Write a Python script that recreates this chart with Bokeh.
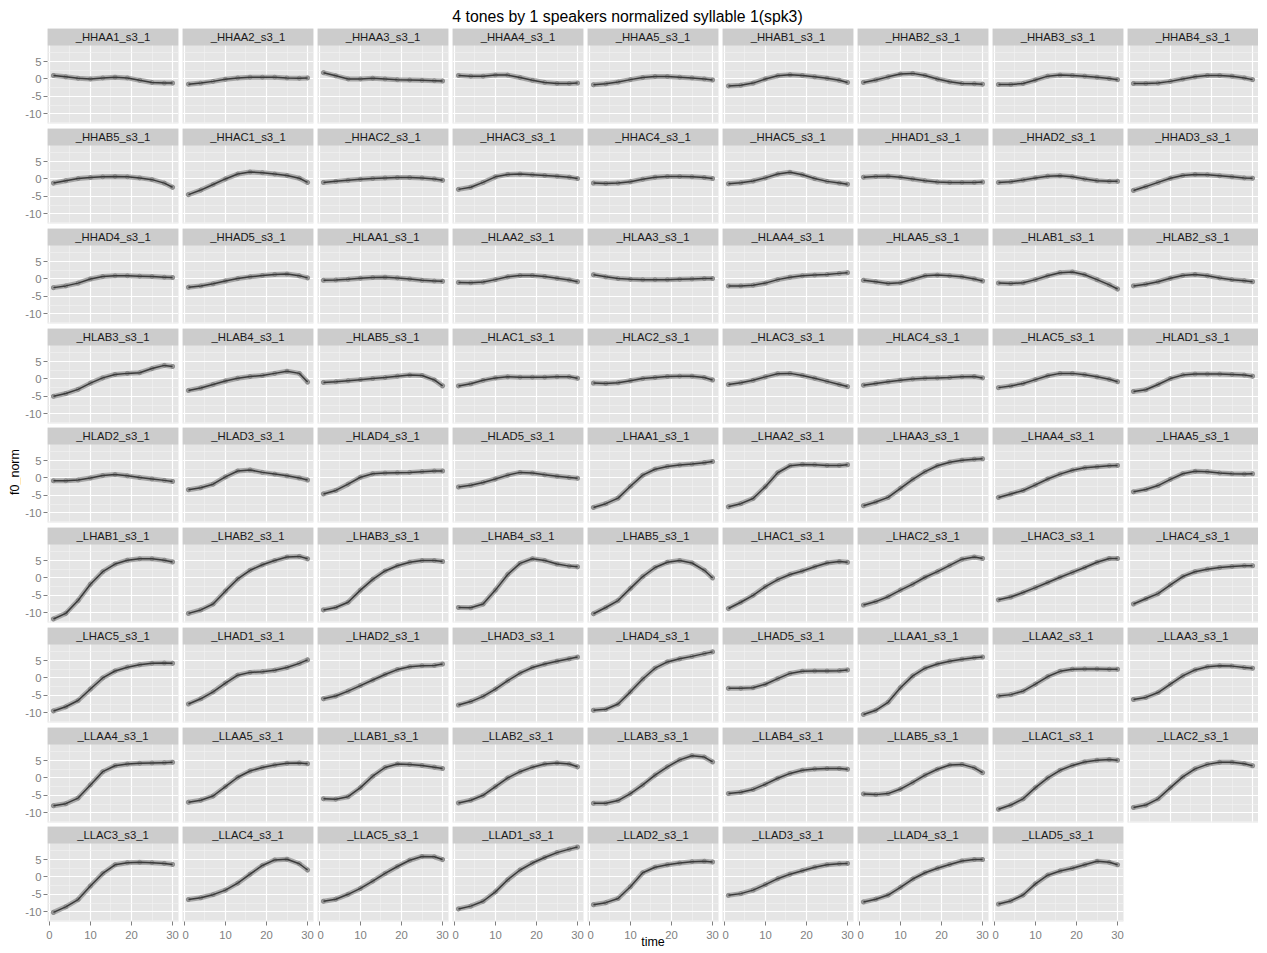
import math
from bokeh.plotting import figure
from bokeh.layouts import gridplot, column, row
from bokeh.models import Range1d, FixedTicker, BoxAnnotation, Label, ColumnDataSource
from bokeh.core.properties import value
from bokeh.embed import file_html
from bokeh.resources import INLINE

# ---------------- data ----------------
TITLE = "4 tones by 1 speakers normalized syllable 1(spk3)"
X_LABEL = "time"
Y_LABEL = "f0_norm"
SUFFIX = "_s3_1"
TIME = [1, 4, 7, 10, 13, 16, 19, 22, 25, 28, 30]
X_TICKS = [0, 10, 20, 30]
X_MINOR = [5, 15, 25]
Y_TICKS = [-10, -5, 0, 5]
Y_MINOR = [-12.5, -7.5, -2.5, 2.5, 7.5]

HHAA = [
    [1.0, 0.6, 0.2, 0.0, 0.3, 0.5, 0.3, -0.4, -1.0, -1.2, -1.2],
    [-1.5, -1.2, -0.7, -0.1, 0.3, 0.5, 0.5, 0.5, 0.3, 0.2, 0.3],
    [1.8, 0.9, 0.0, 0.0, 0.2, 0.0, -0.2, -0.3, -0.4, -0.5, -0.6],
    [1.0, 0.8, 0.8, 1.1, 1.1, 0.4, -0.4, -1.0, -1.3, -1.3, -1.2],
    [-1.7, -1.4, -0.9, -0.2, 0.4, 0.7, 0.7, 0.5, 0.3, 0.0, -0.3],
]
HHAB = [
    [-2.0, -1.8, -1.2, 0.0, 0.9, 1.2, 1.0, 0.6, 0.2, -0.4, -1.0],
    [-1.0, -0.3, 0.6, 1.4, 1.6, 1.0, 0.0, -0.8, -1.3, -1.4, -1.5],
    [-1.6, -1.6, -1.3, -0.3, 0.8, 1.1, 1.0, 0.8, 0.5, 0.1, -0.2],
    [-1.3, -1.3, -1.2, -0.7, 0.0, 0.6, 1.0, 1.0, 0.8, 0.3, -0.2],
    [-1.2, -0.5, 0.1, 0.4, 0.6, 0.7, 0.6, 0.3, -0.2, -1.2, -2.4],
]
HHAC = [
    [-4.5, -3.2, -1.6, 0.0, 1.4, 2.0, 1.8, 1.4, 1.0, 0.2, -1.0],
    [-1.0, -0.7, -0.4, -0.1, 0.1, 0.3, 0.4, 0.4, 0.3, 0.0, -0.4],
    [-3.0, -2.4, -1.0, 0.6, 1.3, 1.4, 1.2, 1.0, 0.8, 0.5, 0.1],
    [-1.2, -1.3, -1.2, -0.8, -0.1, 0.5, 0.7, 0.7, 0.6, 0.4, 0.1],
    [-1.4, -1.1, -0.6, 0.3, 1.4, 1.9, 1.2, 0.1, -0.7, -1.2, -1.5],
]
HHAD = [
    [0.5, 0.7, 0.8, 0.5, 0.0, -0.5, -0.9, -1.0, -1.0, -1.0, -0.9],
    [-1.0, -0.8, -0.3, 0.3, 0.8, 0.9, 0.6, 0.0, -0.5, -0.7, -0.7],
    [-3.3, -2.2, -1.0, 0.2, 1.0, 1.3, 1.2, 0.9, 0.6, 0.3, 0.2],
    [-2.5, -2.0, -1.2, 0.0, 0.7, 0.9, 0.9, 0.8, 0.7, 0.5, 0.4],
    [-2.4, -2.0, -1.4, -0.6, 0.1, 0.6, 1.0, 1.3, 1.4, 0.9, 0.3],
]
HLAA = [
    [-0.4, -0.3, -0.1, 0.2, 0.4, 0.5, 0.3, 0.0, -0.4, -0.6, -0.7],
    [-1.0, -1.1, -0.9, -0.2, 0.6, 1.0, 1.0, 0.7, 0.2, -0.3, -0.8],
    [1.2, 0.6, 0.1, -0.1, -0.2, -0.2, -0.2, -0.1, 0.0, 0.1, 0.1],
    [-2.0, -2.0, -1.8, -1.2, -0.2, 0.5, 0.9, 1.1, 1.3, 1.6, 1.8],
    [-0.4, -0.8, -1.3, -1.1, -0.1, 0.9, 1.1, 0.9, 0.6, 0.0, -0.6],
]
HLAB = [
    [-1.2, -1.3, -1.1, -0.2, 0.9, 1.8, 2.0, 1.2, -0.2, -1.7, -2.9],
    [-2.0, -1.5, -0.8, 0.2, 1.0, 1.3, 0.9, 0.3, -0.2, -0.5, -0.8],
    [-5.0, -4.2, -3.0, -1.2, 0.3, 1.3, 1.6, 1.8, 3.0, 3.9, 3.6],
    [-3.3, -2.6, -1.6, -0.6, 0.2, 0.7, 1.0, 1.6, 2.2, 1.6, -0.9],
    [-1.0, -0.8, -0.5, -0.2, 0.1, 0.4, 0.8, 1.1, 1.0, -0.3, -2.0],
]
HLAC = [
    [-2.0, -1.4, -0.4, 0.3, 0.6, 0.5, 0.5, 0.5, 0.6, 0.6, 0.2],
    [-1.2, -1.3, -1.1, -0.5, 0.1, 0.4, 0.7, 0.8, 0.8, 0.4, -0.3],
    [-1.6, -1.1, -0.4, 0.6, 1.5, 1.6, 1.0, 0.2, -0.7, -1.6, -2.2],
    [-1.8, -1.3, -0.8, -0.4, 0.0, 0.2, 0.3, 0.4, 0.6, 0.7, 0.3],
    [-2.5, -2.0, -1.3, -0.2, 0.9, 1.6, 1.6, 1.2, 0.6, -0.1, -0.8],
]
HLAD = [
    [-3.6, -3.1, -1.6, 0.1, 1.1, 1.4, 1.4, 1.4, 1.3, 1.1, 0.8],
    [-0.8, -0.8, -0.6, 0.0, 0.7, 1.0, 0.6, 0.1, -0.3, -0.7, -1.0],
    [-3.4, -2.8, -1.8, 0.3, 2.0, 2.3, 1.6, 1.1, 0.6, 0.0, -0.6],
    [-4.6, -3.6, -1.8, 0.2, 1.2, 1.4, 1.5, 1.6, 1.8, 2.0, 2.0],
    [-2.6, -2.1, -1.3, -0.3, 0.8, 1.6, 1.4, 0.9, 0.5, 0.1, -0.1],
]
LHAA = [
    [-8.5, -7.4, -5.8, -2.4, 0.8, 2.5, 3.3, 3.7, 4.0, 4.4, 4.7],
    [-8.3, -7.4, -5.9, -2.5, 1.5, 3.5, 3.9, 3.8, 3.6, 3.6, 3.8],
    [-8.0, -6.9, -5.6, -3.0, -0.4, 1.8, 3.5, 4.5, 5.1, 5.4, 5.5],
    [-5.6, -4.6, -3.6, -2.0, -0.3, 1.1, 2.2, 2.9, 3.2, 3.5, 3.6],
    [-4.0, -3.3, -2.2, -0.4, 1.2, 1.9, 1.8, 1.4, 1.2, 1.1, 1.2],
]
LHAB = [
    [-11.8, -10.2, -6.5, -1.8, 1.8, 4.0, 5.1, 5.5, 5.5, 5.1, 4.6],
    [-10.2, -9.2, -7.5, -3.8, -0.3, 2.2, 3.8, 5.0, 6.0, 6.2, 5.5],
    [-9.2, -8.5, -7.0, -3.5, -0.4, 2.0, 3.5, 4.5, 5.0, 5.0, 4.7],
    [-8.5, -8.6, -7.5, -3.5, 1.0, 4.2, 5.5, 5.0, 4.0, 3.4, 3.2],
    [-10.3, -8.5, -6.5, -3.0, 0.4, 3.0, 4.5, 5.0, 4.3, 2.2, 0.0],
]
LHAC = [
    [-8.8, -7.0, -5.0, -2.5, -0.5, 1.0, 2.0, 3.2, 4.3, 4.7, 4.5],
    [-7.8, -6.8, -5.4, -3.5, -1.8, 0.2, 1.8, 3.6, 5.4, 6.0, 5.6],
    [-6.3, -5.5, -4.2, -2.8, -1.3, 0.2, 1.6, 3.0, 4.5, 5.6, 5.6],
    [-7.5, -6.0, -4.5, -2.0, 0.4, 1.8, 2.5, 3.0, 3.3, 3.5, 3.5],
    [-9.5, -8.3, -6.5, -3.2, 0.0, 2.0, 3.1, 3.8, 4.2, 4.3, 4.2],
]
LHAD = [
    [-7.5, -6.0, -4.0, -1.5, 0.8, 1.6, 1.8, 2.2, 3.0, 4.2, 5.2],
    [-6.0, -5.2, -3.8, -2.2, -0.6, 1.0, 2.4, 3.2, 3.5, 3.6, 4.0],
    [-7.8, -6.8, -5.3, -3.2, -0.8, 1.4, 3.0, 4.0, 4.8, 5.5, 6.0],
    [-9.3, -9.0, -7.5, -4.0, -0.3, 2.8, 4.6, 5.5, 6.2, 7.0, 7.5],
    [-3.0, -3.0, -2.8, -1.8, -0.2, 1.3, 1.9, 2.0, 2.0, 2.1, 2.3],
]
LLAA = [
    [-10.5, -9.3, -7.0, -2.8, 0.6, 2.8, 4.0, 4.8, 5.4, 5.8, 6.0],
    [-5.2, -4.8, -3.8, -1.8, 0.4, 1.9, 2.5, 2.6, 2.6, 2.5, 2.5],
    [-6.2, -5.6, -4.2, -1.8, 0.6, 2.3, 3.2, 3.5, 3.4, 3.0, 2.8],
    [-8.0, -7.4, -5.8, -2.0, 1.8, 3.5, 4.0, 4.2, 4.3, 4.4, 4.5],
    [-7.0, -6.4, -5.2, -2.5, 0.2, 2.0, 3.0, 3.7, 4.2, 4.3, 4.1],
]
LLAB = [
    [-6.0, -6.1, -5.4, -2.8, 0.5, 3.0, 4.0, 3.9, 3.6, 3.1, 2.7],
    [-7.2, -6.4, -5.0, -2.5, 0.0, 1.8, 3.1, 4.0, 4.3, 4.0, 3.2],
    [-7.3, -7.3, -6.5, -4.5, -2.0, 0.8, 3.2, 5.2, 6.4, 6.0, 4.6],
    [-4.5, -4.1, -3.3, -1.8, -0.1, 1.3, 2.2, 2.6, 2.7, 2.7, 2.5],
    [-4.6, -4.8, -4.5, -3.2, -1.3, 0.8, 2.5, 3.7, 3.9, 2.9, 1.5],
]
LLAC = [
    [-9.0, -7.8, -6.0, -2.8, 0.0, 2.2, 3.6, 4.6, 5.1, 5.3, 5.1],
    [-8.5, -7.8, -6.0, -2.8, 0.3, 2.6, 3.9, 4.5, 4.5, 4.1, 3.5],
    [-10.2, -8.6, -6.5, -2.6, 1.0, 3.5, 4.1, 4.2, 4.1, 3.9, 3.6],
    [-6.5, -6.0, -5.1, -3.8, -1.8, 0.8, 3.3, 4.9, 5.1, 3.8, 2.0],
    [-7.0, -6.4, -5.0, -3.3, -1.2, 1.0, 3.0, 4.8, 5.9, 5.8, 5.0],
]
LLAD = [
    [-9.2, -8.4, -7.0, -4.3, -0.8, 2.0, 4.0, 5.6, 7.0, 8.0, 8.6],
    [-8.0, -7.4, -6.2, -2.8, 1.2, 2.8, 3.5, 4.0, 4.4, 4.5, 4.3],
    [-5.3, -4.8, -3.8, -2.2, -0.5, 0.8, 1.8, 2.8, 3.5, 3.8, 3.9],
    [-7.2, -6.4, -5.2, -3.0, -0.6, 1.2, 2.5, 3.6, 4.6, 5.0, 5.0],
    [-7.8, -6.9, -5.2, -2.0, 0.5, 1.7, 2.5, 3.5, 4.5, 4.2, 3.5],
]

GROUP_NAMES = ["HHAA", "HHAB", "HHAC", "HHAD", "HLAA", "HLAB", "HLAC", "HLAD",
               "LHAA", "LHAB", "LHAC", "LHAD", "LLAA", "LLAB", "LLAC", "LLAD"]
GROUP_DATA = [HHAA, HHAB, HHAC, HHAD, HLAA, HLAB, HLAC, HLAD,
              LHAA, LHAB, LHAC, LHAD, LLAA, LLAB, LLAC, LLAD]

# ---------------- layout / style ----------------
NCOL = 9
FRAME_W = 131
STRIP_H = 17
PANEL_H = 78
HGAP = 4
VGAPS = [5, 5, 5, 4, 5, 5, 5, 4]
YLAB_W = 21
LEFT_AX = 26
BOTTOM_AX = 30
TITLE_H = 28
FONT = "Liberation Sans"
GREY50 = "#7F7F7F"

panels = []
for gname, gdata in zip(GROUP_NAMES, GROUP_DATA):
    for i, vals in enumerate(gdata, start=1):
        panels.append((f"_{gname}{i}{SUFFIX}", vals))

all_vals = [v for _, vals in panels for v in vals]
xspan = max(TIME) - min(TIME)
x_lo, x_hi = min(TIME) - 0.05 * xspan, max(TIME) + 0.05 * xspan
yspan = max(all_vals) - min(all_vals)
y_lo, y_hi = min(all_vals) - 0.05 * yspan, max(all_vals) + 0.05 * yspan
y_top = y_hi + (y_hi - y_lo) * STRIP_H / PANEL_H

NROW = (len(panels) + NCOL - 1) // NCOL


def style_axis(ax, ticks, standoff):
    ax.ticker = FixedTicker(ticks=ticks)
    # plain hyphen-minus labels, as in the original
    ax.major_label_overrides = {t: str(t) for t in ticks}
    ax.axis_line_color = None
    ax.major_tick_line_color = GREY50
    ax.major_tick_line_width = 1
    ax.major_tick_out = 4
    ax.major_tick_in = 0
    ax.minor_tick_line_color = None
    ax.major_label_text_color = GREY50
    ax.major_label_text_font = FONT
    ax.major_label_text_font_size = "11.3px"
    ax.major_label_standoff = standoff


def make_panel(name, vals, r, c):
    is_left = c == 0
    is_bottom = r == NROW - 1
    p = figure(frame_width=FRAME_W, frame_height=STRIP_H + PANEL_H,
               x_range=Range1d(x_lo, x_hi), y_range=Range1d(y_lo, y_top),
               output_backend="svg", toolbar_location=None, title=None,
               x_axis_location="below" if is_bottom else None,
               y_axis_location="left" if is_left else None,
               min_border=0)
    p.min_border_left = LEFT_AX if is_left else 0
    p.min_border_right = HGAP if c < NCOL - 1 else 0
    p.min_border_top = 0
    p.min_border_bottom = BOTTOM_AX if is_bottom else VGAPS[r]
    p.background_fill_color = "#E5E5E5"
    p.border_fill_color = "white"
    p.outline_line_color = None

    p.xgrid.ticker = FixedTicker(ticks=X_TICKS, minor_ticks=X_MINOR)
    p.ygrid.ticker = FixedTicker(ticks=Y_TICKS, minor_ticks=Y_MINOR)
    for g in list(p.xgrid) + list(p.ygrid):
        g.grid_line_color = "white"
        g.grid_line_width = 1.2
        g.minor_grid_line_color = "#F2F2F2"
        g.minor_grid_line_width = 0.6

    if is_left:
        style_axis(p.yaxis[0], Y_TICKS, 2)
    if is_bottom:
        ax = p.xaxis[0]
        style_axis(ax, X_TICKS, 5)
        if c == NCOL // 2:
            ax.axis_label = X_LABEL
            ax.axis_label_text_font = FONT
            ax.axis_label_text_font_size = "12.5px"
            ax.axis_label_text_font_style = "normal"
            ax.axis_label_text_color = "black"
            ax.axis_label_standoff = -7

    src = ColumnDataSource(dict(time=TIME, f0=vals))
    p.line("time", "f0", source=src, line_color="#9C9C9C", line_width=5,
           line_alpha=0.85, line_cap="round", line_join="round")
    p.scatter("time", "f0", source=src, size=4, fill_color="#999999",
              fill_alpha=0.8, line_color="#7A7A7A", line_width=0.6)
    p.line("time", "f0", source=src, line_color="#3A3A3A", line_width=1.5,
           line_join="round")

    p.add_layout(BoxAnnotation(left=x_lo, right=x_hi, bottom=y_hi, top=y_top,
                               fill_color="#CCCCCC", fill_alpha=1.0,
                               line_color=None))
    p.add_layout(Label(x=(x_lo + x_hi) / 2, y=(y_hi + y_top) / 2, text=name,
                       text_align="center", text_baseline="middle",
                       text_font=FONT, text_font_size="11.3px",
                       text_color="#1A1A1A"))
    return p


children = []
for r in range(NROW):
    rf = []
    for c in range(NCOL):
        k = r * NCOL + c
        if k >= len(panels):
            rf.append(None)
        else:
            rf.append(make_panel(panels[k][0], panels[k][1], r, c))
    children.append(rf)

grid = gridplot(children, toolbar_location=None)

rows_h = sum(STRIP_H + PANEL_H + g for g in VGAPS) + STRIP_H + PANEL_H
TOTAL_W = YLAB_W + LEFT_AX + NCOL * FRAME_W + (NCOL - 1) * HGAP

# y label (vertical, reads bottom to top)
yl = figure(width=YLAB_W, height=rows_h, x_range=Range1d(0, YLAB_W),
            y_range=Range1d(rows_h, 0), min_border=0, toolbar_location=None,
            x_axis_location=None, y_axis_location=None, title=None,
            output_backend="svg")
yl.grid.visible = False
yl.outline_line_color = None
yl.text(x=[14.5], y=[rows_h / 2 - 3], text=[Y_LABEL], angle=math.pi / 2,
        text_align="center", text_baseline="middle",
        text_font=value(FONT), text_font_size="12.5px", text_color="black")

# title
tf = figure(width=TOTAL_W, height=TITLE_H, x_range=Range1d(0, TOTAL_W),
            y_range=Range1d(TITLE_H, 0), min_border=0, toolbar_location=None,
            x_axis_location=None, y_axis_location=None, title=None,
            output_backend="svg")
tf.grid.visible = False
tf.outline_line_color = None
tf.text(x=[627], y=[16], text=[TITLE], text_align="center",
        text_baseline="middle", text_font=value(FONT),
        text_font_size="15.8px", text_color="black")

layout = column(tf, row(yl, grid))

open("out.html", "w").write(file_html(layout, INLINE))
